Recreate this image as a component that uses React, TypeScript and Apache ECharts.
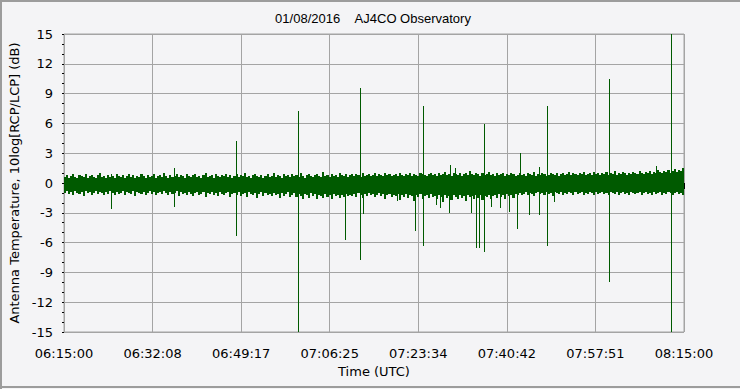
import React, { useEffect, useRef } from "react";
import * as echarts from "echarts";

// ---- data ----
const TITLE = "01/08/2016\u00a0\u00a0\u00a0\u00a0AJ4CO Observatory";
const START_TIME = "06:15:00";
const END_TIME = "08:15:00";
const X_LABEL_COUNT = 7; // label intervals across the range
const Y_MIN = -15;
const Y_MAX = 15;
const Y_STEP = 3;
const NOISE_STEP_SEC = 24; // one high/low pair every 24 s

// upper edge of the noise band, one value per 24 s
const noiseHigh = [
  0.6, 0.8, 0.5, 0.7, 0.9, 0.6, 0.5, 0.8, 0.7, 0.6, 0.9, 0.5, 0.7, 0.8, 0.6, 0.5, 0.8, 1.0, 0.6, 0.7,
  0.5, 0.8, 0.6, 0.7, 0.5, 0.9, 0.7, 0.6, 0.8, 0.5, 0.7, 0.9, 0.6, 0.8, 0.5, 0.7, 0.6, 0.9, 0.7, 0.5,
  0.8, 0.6, 0.7, 0.9, 0.5, 0.7, 0.8, 0.6, 1.0, 0.7, 0.5, 0.8, 0.6, 0.7, 0.9, 0.6, 0.8, 0.7, 0.5, 0.9,
  0.7, 0.6, 0.8, 0.9, 0.6, 0.7, 0.5, 0.8, 1.0, 0.6, 0.7, 0.8, 0.5, 0.9, 0.7, 0.6, 0.8, 0.7, 0.9, 0.6,
  0.8, 0.5, 0.7, 0.9, 0.6, 0.8, 0.7, 1.0, 0.6, 0.7, 0.5, 0.8, 0.9, 0.7, 0.6, 0.8, 0.5, 0.7, 0.9, 0.6,
  0.7, 1.0, 0.6, 0.8, 0.7, 0.5, 0.9, 0.7, 0.8, 0.6, 0.9, 0.7, 0.8, 0.6, 1.0, 0.7, 0.5, 0.8, 0.9, 0.7,
  0.6, 0.8, 0.9, 0.7, 0.6, 1.1, 0.7, 0.8, 0.6, 0.9, 0.7, 0.8, 0.6, 1.0, 0.8, 0.7, 0.9, 0.6, 0.8, 0.9,
  0.7, 0.9, 0.8, 0.6, 1.0, 0.7, 0.8, 0.9, 0.7, 0.8, 1.0, 0.7, 0.9, 0.8, 0.7, 1.0, 0.8, 0.9, 0.7, 0.8,
  0.9, 0.7, 1.0, 0.8, 0.7, 0.9, 0.8, 1.0, 0.7, 0.9, 0.8, 0.7, 1.0, 0.9, 0.8, 0.7, 0.9, 1.0, 0.8, 0.9,
  0.7, 1.0, 0.8, 0.9, 1.1, 0.8, 0.9, 0.7, 1.0, 0.9, 0.8, 1.0, 0.7, 0.9, 1.0, 0.8, 1.2, 0.9, 0.8, 1.0,
  0.9, 0.7, 1.0, 0.8, 0.9, 1.1, 0.8, 0.9, 0.7, 1.0, 0.8, 0.9, 1.0, 0.7, 0.9, 0.8, 1.0, 0.9, 0.7, 0.8,
  1.0, 0.8, 0.9, 0.7, 1.0, 0.9, 0.8, 1.1, 0.7, 0.9, 0.8, 1.0, 0.9, 0.7, 0.8, 1.0, 0.9, 0.8, 1.0, 0.7,
  0.9, 1.0, 0.8, 0.9, 1.1, 0.8, 1.0, 0.9, 0.8, 1.0, 0.9, 1.1, 0.8, 0.9, 1.0, 0.8, 1.1, 0.9, 1.0, 0.8,
  1.0, 0.9, 1.1, 0.8, 1.0, 0.9, 1.2, 0.8, 1.0, 0.9, 1.1, 1.0, 0.8, 1.0, 0.9, 1.1, 1.0, 0.9, 1.2, 1.0,
  0.9, 1.1, 1.0, 1.2, 0.9, 1.1, 1.0, 1.3, 1.1, 1.0, 1.2, 1.1, 1.3, 1.0, 1.2, 1.4, 1.1, 1.3, 1.2, 1.5,
  1.4,
];

// lower edge of the noise band, one value per 24 s
const noiseLow = [
  -1.0, -0.8, -1.1, -0.9, -1.2, -0.8, -1.0, -1.1, -0.9, -1.3, -0.8, -1.0, -0.9, -1.2, -1.0, -0.8, -1.1, -0.9, -1.0, -1.2,
  -0.9, -1.1, -0.8, -1.0, -1.2, -0.9, -1.1, -1.0, -0.8, -1.2, -0.9, -1.0, -1.1, -0.8, -1.3, -0.9, -1.0, -1.1, -0.9, -1.2,
  -1.0, -0.8, -1.1, -0.9, -1.2, -1.0, -0.9, -1.1, -0.8, -1.0, -1.2, -0.9, -1.1, -1.0, -0.8, -1.3, -0.9, -1.1, -1.0, -1.2,
  -0.9, -1.1, -1.3, -1.0, -0.9, -1.2, -1.1, -0.9, -1.4, -1.0, -1.1, -0.9, -1.2, -1.0, -1.3, -0.9, -1.1, -1.2, -1.0, -0.9,
  -1.4, -1.1, -1.0, -1.2, -0.9, -1.3, -1.1, -1.0, -1.4, -0.9, -1.1, -1.2, -1.0, -1.5, -1.1, -0.9, -1.3, -1.0, -1.2, -1.1,
  -1.3, -1.0, -1.2, -1.1, -1.5, -1.0, -1.3, -1.1, -0.9, -1.4, -1.2, -1.0, -1.4, -1.1, -1.3, -1.6, -1.1, -1.2, -1.5, -1.0,
  -1.3, -1.1, -1.6, -1.2, -1.3, -1.5, -1.1, -1.4, -1.2, -1.6, -1.1, -1.3, -1.2, -1.5, -1.2, -1.4, -1.1, -1.3, -1.2, -1.3,
  -1.1, -1.4, -1.0, -1.2, -1.5, -1.1, -1.3, -1.0, -1.2, -1.1, -1.4, -1.2, -1.0, -1.3, -1.1, -1.6, -1.2, -1.1, -1.4, -1.2,
  -1.3, -1.1, -1.7, -1.2, -1.4, -1.1, -1.5, -1.2, -1.3, -1.8, -1.2, -1.4, -1.1, -1.6, -1.3, -1.2, -1.5, -1.1, -1.4, -1.3,
  -1.6, -1.2, -1.4, -1.9, -1.2, -1.5, -1.3, -1.7, -1.2, -1.4, -1.6, -1.2, -1.5, -1.3, -1.8, -1.2, -1.4, -1.3, -1.6, -1.2,
  -1.5, -1.2, -1.7, -1.3, -1.4, -1.2, -1.6, -1.3, -1.2, -1.5, -1.1, -1.4, -1.2, -1.6, -1.1, -1.3, -1.2, -1.5, -1.1, -1.2,
  -1.0, -1.2, -1.1, -0.9, -1.2, -1.0, -1.1, -1.3, -1.0, -0.9, -1.1, -1.0, -1.2, -0.9, -1.1, -1.0, -1.3, -0.9, -1.0, -1.1,
  -0.9, -1.2, -1.0, -1.1, -0.9, -1.0, -1.2, -0.9, -1.1, -1.0, -0.9, -1.2, -1.0, -1.1, -0.9, -1.0, -1.2, -0.9, -1.1, -1.0,
  -0.9, -1.1, -1.0, -1.2, -0.9, -1.0, -1.1, -0.9, -1.2, -1.0, -0.9, -1.1, -1.0, -1.2, -0.9, -1.0, -1.1, -1.0, -0.9, -1.2,
  -1.0, -0.9, -1.1, -1.0, -1.2, -0.9, -1.1, -1.0, -0.9, -1.2, -1.0, -1.1, -0.9, -1.0, -1.2, -1.0, -0.9, -1.1, -1.0, -1.2,
  -1.1,
];

const spikeTimes = [
  "06:24:02", "06:36:14", "06:48:14", "07:00:17", "07:09:20", "07:12:17", "07:12:49", "07:19:24",
  "07:22:53", "07:24:29", "07:26:57", "07:27:43", "07:29:31", "07:29:47", "07:30:37", "07:33:51",
  "07:34:49", "07:35:16", "07:36:17", "07:37:35", "07:39:28", "07:41:08", "07:42:41", "07:43:12",
  "07:45:00", "07:46:56", "07:48:29", "07:49:47", "08:00:29", "08:09:40", "08:12:29",
];
const spikeHigh = [
  0.9, 1.5, 4.2, 7.2, 0, 9.6, 0, 0,
  0, 7.8, 0, 0, 0, 1.8, 1.5, 0,
  0, 0, 5.9, 0, 0, 0, 0, 3.0,
  0, 1.6, 7.8, 0, 10.5, 1.7, 15,
];
const spikeLow = [
  -2.6, -2.4, -5.3, -15, -5.7, -7.8, -3.1, -1.8,
  -4.8, -6.3, -2.2, -2.5, -3.0, 0, 0, -3.0,
  -6.5, -6.5, -6.9, -2.4, -2.5, -2.9, -4.65, 0,
  -3.25, -3.2, -6.3, -1.9, -10.0, 0, -15,
];

// ---- helpers ----
const toSec = (hms: string) => {
  const [h, m, s] = hms.split(":").map(Number);
  return h * 3600 + m * 60 + s;
};
const START = toSec(START_TIME);
const SPAN = toSec(END_TIME) - START;
// axis unit: seconds * X_LABEL_COUNT so the label interval is an integer
const U = X_LABEL_COUNT;
const toU = (sec: number) => sec * U;
const pad = (n: number) => String(n).padStart(2, "0");
const fmtTime = (u: number) => {
  const t = START + Math.floor(u / U + 1e-6);
  return `${pad(Math.floor(t / 3600))}:${pad(Math.floor((t % 3600) / 60))}:${pad(t % 60)}`;
};

// each noise sample: [start time, high, low, end time]
const noiseData = noiseHigh.map((hv, i) => [
  toU(i * NOISE_STEP_SEC),
  hv,
  noiseLow[i],
  toU((i + 1) * NOISE_STEP_SEC),
]);

const spikeData = spikeTimes.map((t, i) => [toU(toSec(t) - START), spikeHigh[i], spikeLow[i]]);

const GREEN = "#005a00";
const GRID_GRAY = "#a4a4a4";
const AXIS_FONT = "DejaVu Sans";

export default function App() {
  const ref = useRef<HTMLDivElement>(null);
  useEffect(() => {
    if (!ref.current) return;
    const chart = echarts.init(ref.current, null, { renderer: "svg" });
    chart.setOption({
      animation: false,
      backgroundColor: "#f4f4f6",
      graphic: [
        { type: "line", shape: { x1: 0, y1: 1, x2: 740, y2: 1 }, style: { stroke: "#9c9c9c", lineWidth: 2 } },
        { type: "line", shape: { x1: 1, y1: 0, x2: 1, y2: 389 }, style: { stroke: "#9c9c9c", lineWidth: 2 } },
        { type: "line", shape: { x1: 0, y1: 387, x2: 740, y2: 387 }, style: { stroke: "#9c9c9c", lineWidth: 2 } },
        {
          type: "text",
          x: 373,
          y: 18,
          style: {
            text: TITLE,
            fill: "#000",
            font: '13px "Liberation Sans", Arial, sans-serif',
            textAlign: "center",
            textVerticalAlign: "middle",
          },
        },
      ],
      grid: {
        left: 64,
        right: 56,
        top: 34,
        bottom: 57,
        show: true,
        borderColor: GRID_GRAY,
        borderWidth: 1,
        backgroundColor: "transparent",
        outerBoundsMode: "none",
      },
      xAxis: {
        type: "value",
        min: 0,
        max: toU(SPAN),
        interval: toU(SPAN / X_LABEL_COUNT),
        offset: 4,
        axisLine: { show: false },
        axisTick: { show: true, length: 6, lineStyle: { color: "#000" } },
        minorTick: { show: true, splitNumber: 6, length: 3, lineStyle: { color: "#000" } },
        splitLine: { show: true, lineStyle: { color: GRID_GRAY, width: 1 } },
        axisLabel: {
          formatter: (v: number) => fmtTime(v),
          fontFamily: AXIS_FONT,
          fontSize: 13,
          color: "#000",
          margin: 11,
          showMinLabel: true,
          showMaxLabel: true,
          hideOverlap: false,
        },
        name: "Time (UTC)",
        nameLocation: "middle",
        nameGap: 27,
        nameTextStyle: { fontFamily: AXIS_FONT, fontSize: 13, color: "#000" },
      },
      yAxis: {
        type: "value",
        min: Y_MIN,
        max: Y_MAX,
        interval: Y_STEP,
        offset: 5,
        axisLine: { show: false },
        axisTick: { show: true, length: 2, lineStyle: { color: "#000" } },
        minorTick: { show: true, splitNumber: 3, length: 2, lineStyle: { color: "#000" } },
        splitLine: { show: true, lineStyle: { color: GRID_GRAY, width: 1 } },
        axisLabel: {
          fontFamily: AXIS_FONT,
          fontSize: 13,
          color: "#000",
          margin: 6,
          showMinLabel: true,
          showMaxLabel: true,
        },
        name: "Antenna Temperature, 10log[RCP/LCP] (dB)",
        nameLocation: "middle",
        nameGap: 31,
        nameTextStyle: { fontFamily: AXIS_FONT, fontSize: 13, color: "#000" },
      },
      series: [
        {
          type: "custom",
          data: noiseData,
          silent: true,
          clip: true,
          renderItem: (_params: any, api: any) => {
            const pTop = api.coord([api.value(0), api.value(1)]);
            const pBot = api.coord([api.value(0), api.value(2)]);
            const pEnd = api.coord([api.value(3), api.value(2)]);
            const x0 = Math.round(pTop[0]);
            const x1 = Math.round(pEnd[0]);
            const y0 = Math.round(pTop[1]);
            const y1 = Math.round(pBot[1]);
            return {
              type: "rect",
              shape: { x: x0, y: y0, width: Math.max(1, x1 - x0), height: y1 - y0 },
              style: { fill: GREEN },
            };
          },
        },
        {
          type: "custom",
          data: spikeData,
          silent: true,
          clip: true,
          renderItem: (_params: any, api: any) => {
            const x = api.value(0);
            const p1 = api.coord([x, api.value(1)]);
            const p2 = api.coord([x, api.value(2)]);
            const px = Math.round(p1[0]);
            const y1 = Math.round(Math.min(p1[1], p2[1]));
            const y2 = Math.round(Math.max(p1[1], p2[1]));
            return {
              type: "rect",
              shape: { x: px, y: y1, width: 1, height: y2 - y1 },
              style: { fill: GREEN },
            };
          },
        },
      ],
    });
    return () => chart.dispose();
  }, []);
  return (
    <div
      ref={ref}
      style={{ position: "fixed", left: 0, top: 0, width: 740, height: 389 }}
    />
  );
}
